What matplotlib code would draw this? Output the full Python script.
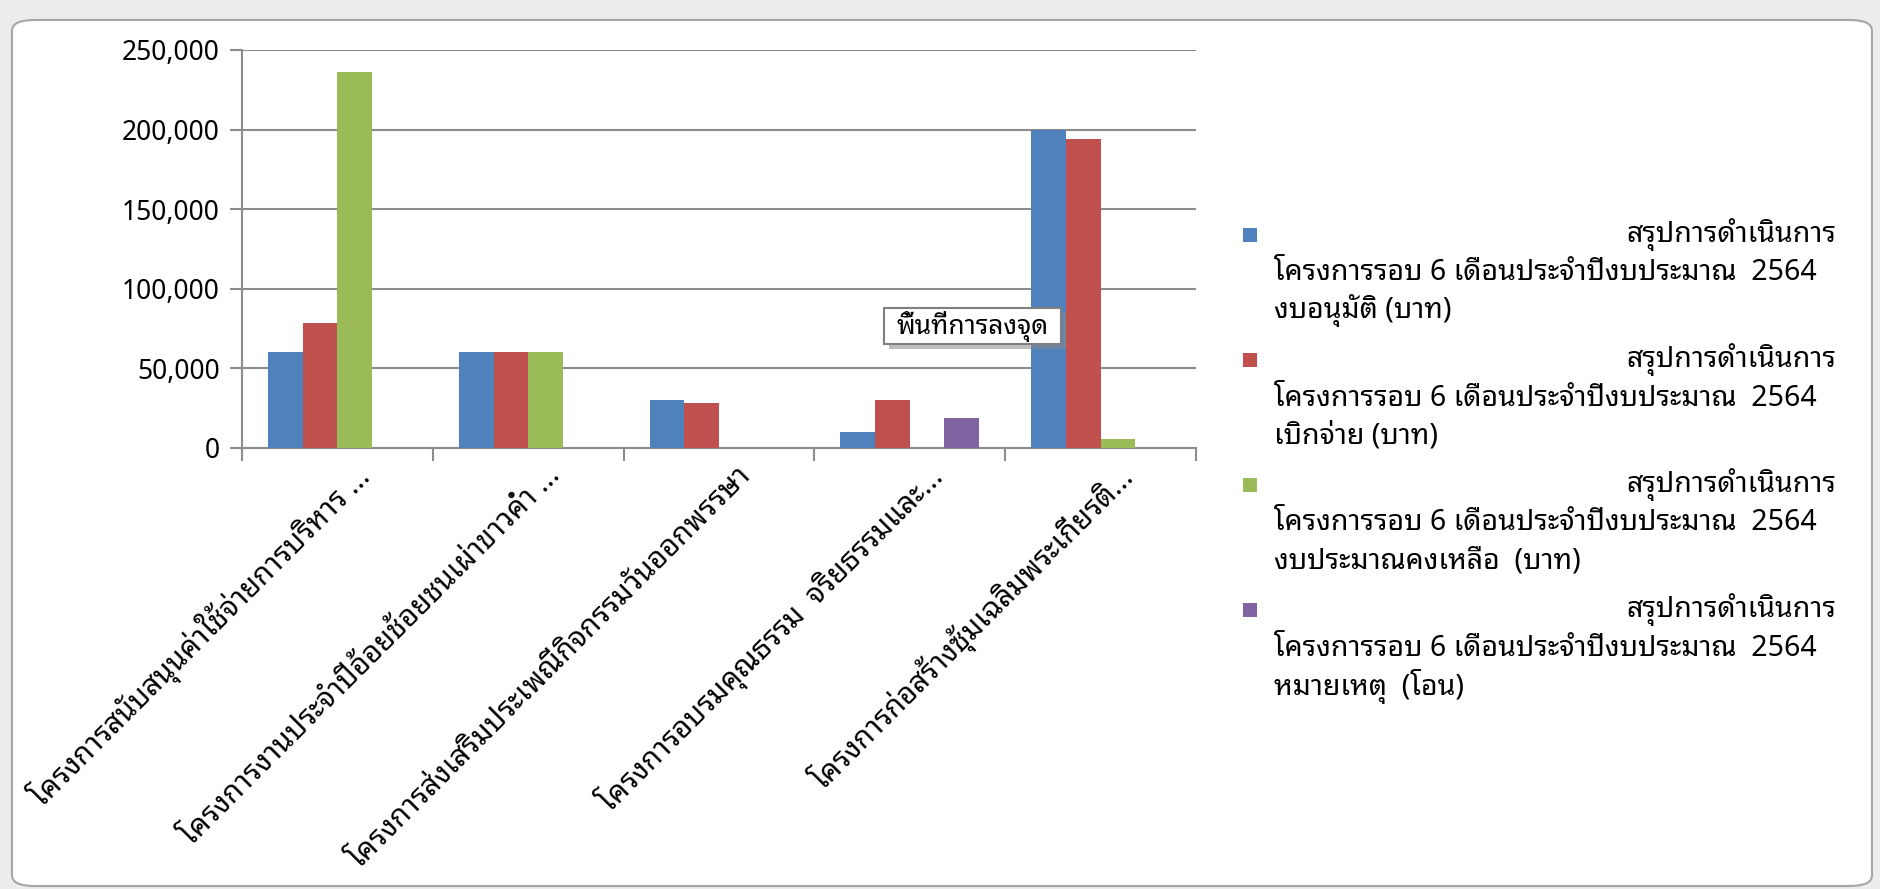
import matplotlib
matplotlib.use("Agg")
import numpy as np
import matplotlib.pyplot as plt
from matplotlib import font_manager
from matplotlib.patches import FancyBboxPatch, Rectangle
from matplotlib.ticker import FuncFormatter

# หา font ที่มีอักษรไทย
names = set(f.name for f in font_manager.fontManager.ttflist)
thai_font = 'IBM Plex Sans Thai Looped'
for n in ['Tahoma', 'Noto Sans Thai Looped', 'Loma', 'Garuda', 'Noto Sans Thai', 'Sarabun']:
    if n in names:
        thai_font = n
        break
plt.rcParams['font.family'] = [thai_font, 'DejaVu Sans']

categories = [
    'โครงการสนับสนุนค่าใช้จ่ายการบริหาร ...',
    'โครงการงานประจำปีอ้อยช้อยชนเผ่าขาวค่ำ ...',
    'โครงการส่งเสริมประเพณีกิจกรรมวันออกพรรษา',
    'โครงการอบรมคุณธรรม  จริยธรรมและ...',
    'โครงการก่อสร้างซุ้มเฉลิมพระเกียรติ...',
]
approved = [60000, 60000, 30000, 10000, 200000]
disbursed = [78500, 60000, 28500, 30000, 194000]
remaining = [236000, 60000, 0, 0, 5700]
note_transfer = [0, 0, 0, 19000, 0]

legend_head = 'สรุปการดำเนินการ'
legend_mid = 'โครงการรอบ 6 เดือนประจำปีงบประมาณ  2564'
legend_tail = ['งบอนุมัติ (บาท)', 'เบิกจ่าย (บาท)', 'งบประมาณคงเหลือ  (บาท)', 'หมายเหตุ  (โอน)']
colors = ['#4F81BD', '#C0504D', '#9BBB59', '#8064A2']

W, H = 1881, 889
fig = plt.figure(figsize=(W / 100, H / 100), dpi=100)
fig.patch.set_facecolor('#ececec')

# กรอบแผนภูมิ
frame = FancyBboxPatch((12 / W, 1 - 886 / H), (1872 - 12) / W, (886 - 20) / H,
                       boxstyle='round,pad=0,rounding_size=0.012', transform=fig.transFigure,
                       facecolor='white', edgecolor='#a6a6a6', lw=1.5, zorder=-5)
fig.patches.append(frame)

ax = fig.add_axes([242 / W, 1 - 448 / H, (1196 - 242) / W, (448 - 50) / H])
ax.set_facecolor('none')

series = [approved, disbursed, remaining, note_transfer]
x = np.arange(len(categories))
w = 1 / 5.5
for i, s in enumerate(series):
    ax.bar(x + (i - 1.5) * w, s, width=w, color=colors[i], zorder=3)

ax.set_xlim(-0.5, len(categories) - 0.5)
ax.set_ylim(0, 250000)
ax.set_yticks(np.arange(0, 250001, 50000))
ax.yaxis.set_major_formatter(FuncFormatter(lambda v, p: '{:,.0f}'.format(v)))
ax.grid(axis='y', color='#8c8c8c', lw=1.5, zorder=0)
for sp in ['top', 'right']:
    ax.spines[sp].set_visible(False)
for sp in ['left', 'bottom']:
    ax.spines[sp].set_color('#8c8c8c')
    ax.spines[sp].set_linewidth(1.5)
ax.tick_params(axis='y', length=9, width=1.5, color='#8c8c8c', labelsize=19, pad=7)

ax.set_xticks(x)
ax.set_xticklabels([])
ax.tick_params(axis='x', which='major', length=0)
ax.set_xticks(np.arange(-0.5, len(categories)), minor=True)
ax.tick_params(axis='x', which='minor', length=9, width=1.5, color='#8c8c8c')

for i, c in enumerate(categories):
    ax.annotate(c, xy=(i, 0), xycoords=('data', 'axes fraction'), xytext=(20, -17),
                textcoords='offset points', rotation=45, rotation_mode='anchor',
                ha='right', va='center', fontsize=21)

# คำอธิบายสัญลักษณ์
for i in range(4):
    y0 = 235 + i * 125
    fig.patches.append(Rectangle((1243 / W, 1 - (y0 + 7) / H), 14 / W, 14 / H,
                                 transform=fig.transFigure, facecolor=colors[i], edgecolor='none'))
    fig.text(1836 / W, 1 - y0 / H, legend_head, ha='right', va='center', fontsize=20.5)
    fig.text(1274 / W, 1 - (y0 + 38) / H, legend_mid, ha='left', va='center', fontsize=20.5)
    fig.text(1274 / W, 1 - (y0 + 76) / H, legend_tail[i], ha='left', va='center', fontsize=20.5)

# ป้ายชื่อพื้นที่การลงจุด (มีเงา)
bx0, bx1, by0, by1 = 884, 1061, 308, 344
fig.patches.append(Rectangle(((bx0 + 5) / W, 1 - (by1 + 5) / H), (bx1 - bx0) / W, (by1 - by0) / H,
                             transform=fig.transFigure, facecolor='#8a8a8a', edgecolor='none',
                             alpha=0.55, zorder=10))
fig.patches.append(Rectangle((bx0 / W, 1 - by1 / H), (bx1 - bx0) / W, (by1 - by0) / H,
                             transform=fig.transFigure, facecolor='white', edgecolor='#7f7f7f',
                             lw=1.5, zorder=11))
fig.text((bx0 + bx1) / 2 / W, 1 - (by0 + by1) / 2 / H, 'พื้นที่การลงจุด', ha='center', va='center',
         fontsize=19, zorder=12)

fig.savefig('out.png', dpi=100)
